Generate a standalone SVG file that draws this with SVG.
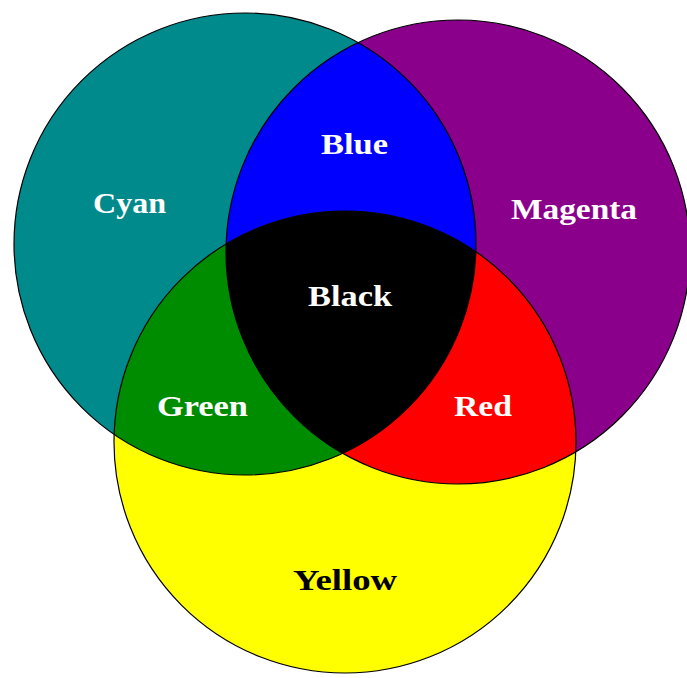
<svg xmlns="http://www.w3.org/2000/svg" width="687" height="678" viewBox="0 0 687 678">
<style>
.lbl{font-family:"Liberation Serif","Times New Roman",serif;font-weight:bold;font-size:30px;fill:#ffffff;text-anchor:middle}
.dark{fill:#000000}
.ol{fill:none;stroke:#000000;stroke-width:1.2}
</style>
<defs>
<circle id="cC" cx="245" cy="244" r="231"/>
<circle id="cM" cx="458" cy="252" r="232"/>
<circle id="cY" cx="345" cy="442" r="231"/>
<clipPath id="clipC"><use href="#cC"/></clipPath>
<clipPath id="clipM"><use href="#cM"/></clipPath>
<clipPath id="clipY"><use href="#cY"/></clipPath>
</defs>
<rect width="687" height="678" fill="#ffffff"/>
<g id="cyan"><use href="#cC" fill="#008A8C"/></g>
<g id="magenta"><use href="#cM" fill="#8B008B"/></g>
<g id="yellow"><use href="#cY" fill="#FFFF00"/></g>
<g id="blue" clip-path="url(#clipC)"><use href="#cM" fill="#0000FF"/></g>
<g id="green" clip-path="url(#clipC)"><use href="#cY" fill="#008C00"/></g>
<g id="red" clip-path="url(#clipM)"><use href="#cY" fill="#FF0000"/></g>
<g id="black" clip-path="url(#clipC)"><g clip-path="url(#clipM)"><use href="#cY" fill="#000000"/></g></g>
<g id="outlines">
<use href="#cC" class="ol"/>
<use href="#cM" class="ol"/>
<use href="#cY" class="ol"/>
</g>
<g id="labels">
<text class="lbl" x="129.5" y="213" textLength="73" lengthAdjust="spacingAndGlyphs">Cyan</text>
<text class="lbl" x="354.5" y="154" textLength="67" lengthAdjust="spacingAndGlyphs">Blue</text>
<text class="lbl" x="574" y="219" textLength="126" lengthAdjust="spacingAndGlyphs">Magenta</text>
<text class="lbl" x="350" y="306" textLength="84" lengthAdjust="spacingAndGlyphs">Black</text>
<text class="lbl" x="202.5" y="416" textLength="91" lengthAdjust="spacingAndGlyphs">Green</text>
<text class="lbl" x="483" y="416" textLength="58" lengthAdjust="spacingAndGlyphs">Red</text>
<text class="lbl dark" x="345" y="590" textLength="104" lengthAdjust="spacingAndGlyphs">Yellow</text>
</g>
</svg>
